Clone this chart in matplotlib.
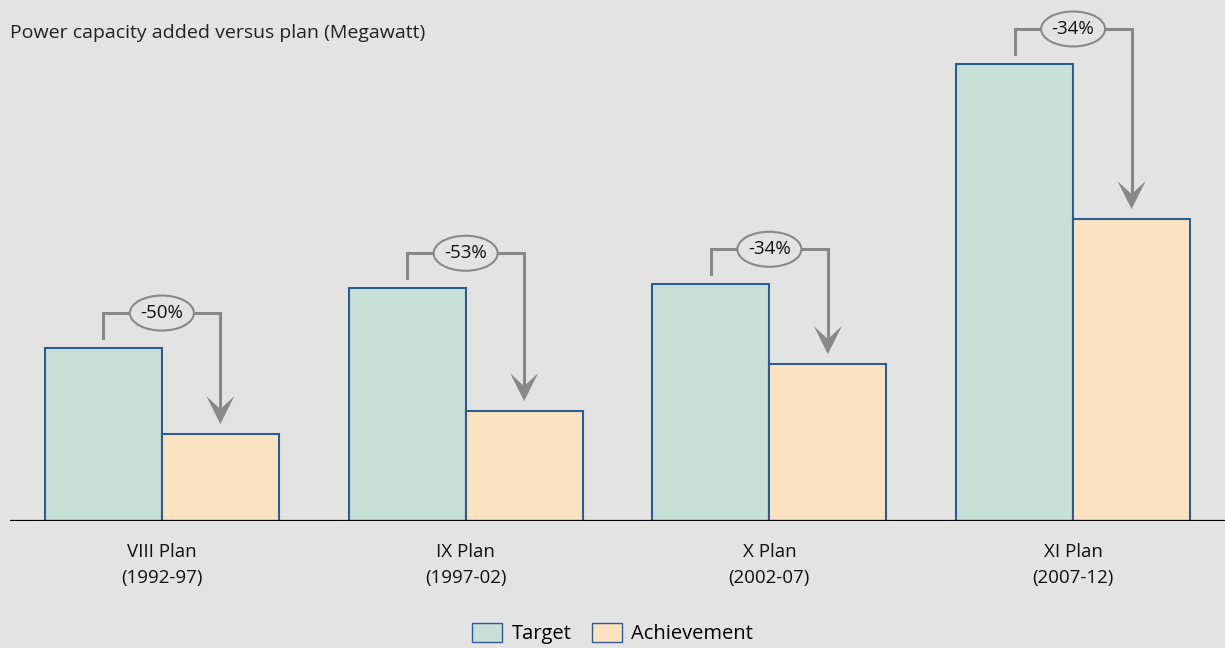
import matplotlib.pyplot as plt
import matplotlib.transforms as transforms
from matplotlib.patches import Ellipse, Polygon, Patch
import numpy as np

BG = '#e3e3e3'
TARGET_COLOR = '#c8dfd8'
ACHIEVE_COLOR = '#fbe3c2'
EDGE_COLOR = '#2d5c92'
ARROW_COLOR = '#888888'

plans = ['VIII Plan\n(1992-97)', 'IX Plan\n(1997-02)', 'X Plan\n(2002-07)', 'XI Plan\n(2007-12)']
# Megawatt
target = [30540, 41100, 41800, 80700]
achievement = [15350, 19400, 27700, 53300]

plt.rcParams['font.family'] = ['Open Sans', 'DejaVu Sans']

fig = plt.figure(figsize=(12.25, 6.48), dpi=100, facecolor=BG)
ax = fig.add_axes([10 / 1225, 127 / 648, 1215 / 1225, 521 / 648], facecolor=BG)

x = np.arange(len(plans))
w = 0.385
ax.bar(x - w / 2, target, w, color=TARGET_COLOR, edgecolor=EDGE_COLOR, linewidth=1.5, label='Target')
ax.bar(x + w / 2, achievement, w, color=ACHIEVE_COLOR, edgecolor=EDGE_COLOR, linewidth=1.5, label='Achievement')

ax.set_xlim(-0.5, 3.5)
ax.set_ylim(0, 92000)
for s in ax.spines.values():
    s.set_visible(False)
ax.axhline(0, color='black', linewidth=1.6, zorder=5)
ax.set_yticks([])
ax.set_xticks(x)
ax.set_xticklabels(plans, fontsize=13.5, linespacing=1.55, color='#111111')
ax.tick_params(axis='x', length=0, pad=16)

# px -> data units on y
px = 92000 / 521
gap = 10 * px
rise = 25 * px

def offset_trans(xd, yd):
    return fig.dpi_scale_trans + transforms.ScaledTranslation(xd, yd, ax.transData)

for i in range(len(plans)):
    xl, xr = x[i] - w / 2, x[i] + w / 2
    y0 = target[i] + gap
    yt = y0 + rise
    tip = achievement[i] + gap
    ax.plot([xl, xl, xr, xr], [y0, yt, yt, tip + 14 * px], color=ARROW_COLOR,
            linewidth=2.2, solid_joinstyle='miter', zorder=3)
    head = Polygon([(0, 0), (-0.14, 0.28), (0, 0.15), (0.14, 0.28)], closed=True,
                   transform=offset_trans(xr, tip), facecolor=ARROW_COLOR,
                   edgecolor='none', zorder=4)
    ax.add_patch(head)
    ell = Ellipse((0, 0), 0.64, 0.35, transform=offset_trans(x[i], yt),
                  facecolor=BG, edgecolor=ARROW_COLOR, linewidth=1.5, zorder=4)
    ax.add_patch(ell)
    pct = round((achievement[i] / target[i] - 1) * 100)
    ax.text(x[i], yt, f'{pct}%', ha='center', va='center', fontsize=13.5,
            color='#111111', zorder=5)

fig.text(10 / 1225, 1 - 33 / 648, 'Power capacity added versus plan (Megawatt)',
         ha='left', va='center', fontsize=14, color='#222222')

handles = [Patch(facecolor=TARGET_COLOR, edgecolor=EDGE_COLOR, linewidth=1.0, label='Target'),
           Patch(facecolor=ACHIEVE_COLOR, edgecolor=EDGE_COLOR, linewidth=1.0, label='Achievement')]
fig.legend(handles=handles, loc='lower center', bbox_to_anchor=(0.5, -0.022), ncol=2,
           frameon=False, fontsize=14.5, handlelength=1.5, handleheight=1.1,
           handletextpad=0.45, columnspacing=1.0)

fig.savefig('out.png', dpi=100, facecolor=BG)
